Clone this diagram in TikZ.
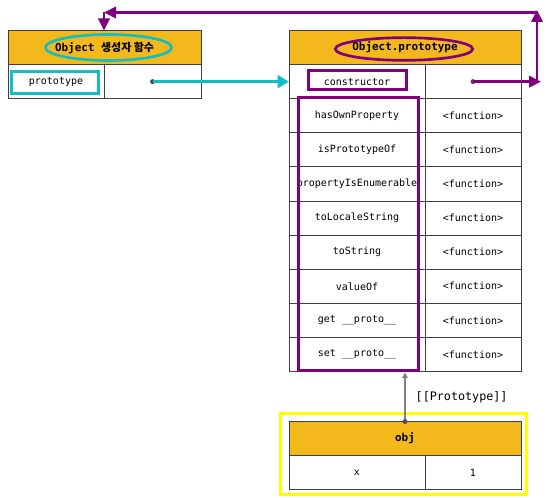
\documentclass[tikz,border=0pt]{standalone}
\usepackage{fontspec}
\setmonofont{DejaVu Sans Mono}
\newfontfamily\krfont{Noto Sans CJK KR}
\usetikzlibrary{arrows.meta, shapes.geometric}
\definecolor{hdrorange}{RGB}{242,184,28}
\definecolor{protopurple}{RGB}{128,0,128}
\definecolor{ctorcyan}{RGB}{16,190,196}
\definecolor{objyellow}{RGB}{255,255,0}

\begin{document}
\begin{tikzpicture}[x=0.75pt,y=-0.75pt,cell/.style={draw=black!75,line width=0.6pt,fill=white,inner sep=0pt,outer sep=0pt,minimum height=25.6pt,font=\ttfamily\fontsize{7.5}{9}\selectfont},hdr/.style={cell,fill=hdrorange,font=\ttfamily\bfseries\fontsize{8.2}{10}\selectfont},keyR/.style={cell,minimum width=102pt},valR/.style={cell,minimum width=72pt},ring/.style={ellipse,draw,line width=2pt,inner sep=0pt,fill=none},hilite/.style={line width=2pt},parrow/.style={protopurple,line width=2pt,-{Triangle[length=9pt,width=8.5pt]}},carrow/.style={ctorcyan,line width=2pt,-{Triangle[length=8.5pt,width=9.5pt]}},garrow/.style={black!50,line width=1.2pt,-{Triangle[length=4pt,width=4pt]}},lbl/.style={font=\ttfamily\fontsize{8.8}{10}\selectfont,anchor=west}]
\useasboundingbox (0,0) rectangle (547,498);
% Object constructor
\node[hdr,minimum width=144.75pt] (lh) at (104.5,47.55) {Object {\krfont\bfseries 생성자 함수}};
\node[cell,minimum width=72pt] (lk) at (56,81.65) {prototype};\node[cell,minimum width=72.75pt] (lv) at (152.5,81.65) {};
% Object.prototype
\node[hdr,minimum width=174pt] (rh) at (405,47.55) {Object.prototype};
\node[keyR] (rk1) at (357,81.65) {constructor};\node[valR] (rv1) at (473,81.65) {};
\node[keyR] (rk2) at (357,115.75) {hasOwnProperty};\node[valR] (rv2) at (473,115.75) {<function>};
\node[keyR] (rk3) at (357,149.85) {isPrototypeOf};\node[valR] (rv3) at (473,149.85) {<function>};
\node[keyR] (rk4) at (357,183.95) {propertyIsEnumerable};\node[valR] (rv4) at (473,183.95) {<function>};
\node[keyR] (rk5) at (357,218.05) {toLocaleString};\node[valR] (rv5) at (473,218.05) {<function>};
\node[keyR] (rk6) at (357,252.15) {toString};\node[valR] (rv6) at (473,252.15) {<function>};
\node[keyR] (rk7) at (357,286.25) {valueOf};\node[valR] (rv7) at (473,286.25) {<function>};
\node[keyR] (rk8) at (357,320.35) {get \_\_proto\_\_};\node[valR] (rv8) at (473,320.35) {<function>};
\node[keyR] (rk9) at (357,354.45) {set \_\_proto\_\_};\node[valR] (rv9) at (473,354.45) {<function>};
% obj
\node[hdr,minimum width=174pt] (objh) at (405,438.6) {obj};
\node[keyR] (objk) at (357,472.7) {x};\node[valR] (objv) at (473,472.7) {1};
% highlights
\draw[hilite,ctorcyan] (11.3,71.3) rectangle (98.7,93.7);
\node[ring,draw=ctorcyan,minimum width=94.5pt,minimum height=19.5pt] (lring) at (108.5,47.5) {};
\node[ring,draw=protopurple,minimum width=103pt,minimum height=17pt] (rring) at (404,49) {};
\draw[hilite,protopurple] (308.5,70.5) rectangle (406.5,89.5);
\draw[hilite,protopurple] (298.5,97.5) rectangle (418.5,370.5);
\draw[hilite,objyellow] (280.5,413.5) rectangle (526.5,494.5);
% links
\coordinate (pe) at (541,81.65);\coordinate (pv) at (537,81.65);\coordinate (pt) at (537,10);\coordinate (pl) at (104,12.5);\coordinate (ptop) at (405,372.5);
\fill[black!70] (lv.center) circle (2.5);\draw[carrow] (lv.center) -- (rk1.west);
\fill[black!70] (rv1.center) circle (2.5);\draw[parrow] (rv1.center) -- (pe);
\draw[parrow] (pv) -- (pt);\draw[parrow] (pt |- pl) -- (pl);\draw[parrow] (pl) -- (lh.north -| pl);
\draw[garrow] (objh.north) -- (ptop);\fill[black!70] (objh.north) circle (2.5);
\node[lbl] (plbl) at (411,397) {[[Prototype]]};
\end{tikzpicture}
\end{document}
